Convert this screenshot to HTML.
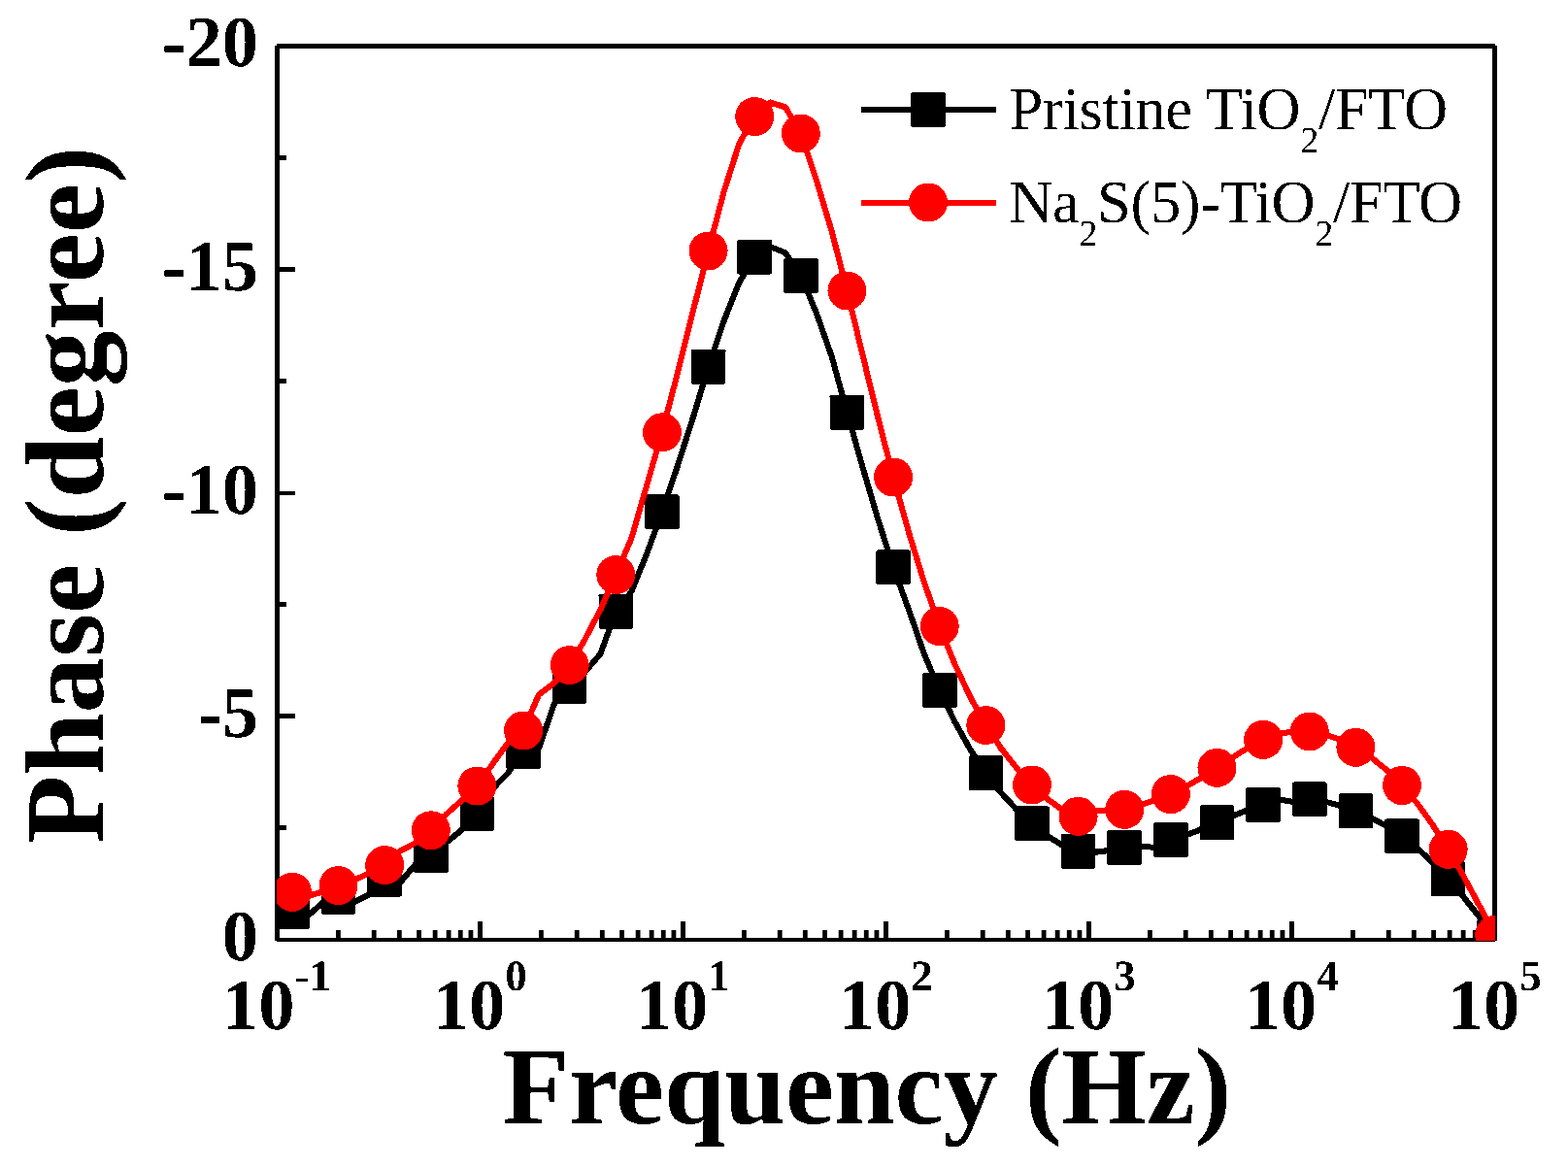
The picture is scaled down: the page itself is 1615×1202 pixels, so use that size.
<!DOCTYPE html>
<html lang="en"><head><meta charset="utf-8"><title>Phase vs Frequency</title>
<style>html,body{margin:0;padding:0;background:#fff}body{width:1615px;height:1202px;overflow:hidden}svg{display:block}text{font-family:"Liberation Serif","DejaVu Serif",serif;fill:#000;text-rendering:geometricPrecision}.b{font-weight:bold}</style>
</head><body>
<svg width="1615" height="1202" viewBox="0 0 1615 1202">
<rect x="0" y="0" width="1615" height="1202" fill="#fff"/>
<defs><clipPath id="pc"><rect x="285" y="47" width="1255" height="922"/></clipPath>
<filter id="th" filterUnits="userSpaceOnUse" x="0" y="0" width="1615" height="1202" color-interpolation-filters="sRGB"><feComponentTransfer><feFuncA type="discrete" tableValues="0 1"/></feComponentTransfer></filter></defs>
<g fill="#000" shape-rendering="crispEdges">
<rect x="285" y="45" width="1255" height="5"/>
<rect x="285" y="966" width="1255" height="4"/>
<rect x="283" y="47" width="5" height="922"/>
<rect x="1537" y="47" width="5" height="922"/>
<rect x="288" y="160.0" width="7" height="5"/>
<rect x="288" y="275.0" width="16" height="5"/>
<rect x="288" y="390.0" width="7" height="5"/>
<rect x="288" y="506" width="16" height="4"/>
<rect x="288" y="620.0" width="7" height="5"/>
<rect x="288" y="735.0" width="16" height="5"/>
<rect x="288" y="850.0" width="7" height="5"/>
<rect x="346.02" y="958" width="4.8" height="8" shape-rendering="auto"/>
<rect x="382.82" y="958" width="4.8" height="8" shape-rendering="auto"/>
<rect x="408.93" y="958" width="4.8" height="8" shape-rendering="auto"/>
<rect x="429.18" y="958" width="4.8" height="8" shape-rendering="auto"/>
<rect x="445.73" y="958" width="4.8" height="8" shape-rendering="auto"/>
<rect x="459.73" y="958" width="4.8" height="8" shape-rendering="auto"/>
<rect x="471.85" y="958" width="4.8" height="8" shape-rendering="auto"/>
<rect x="482.54" y="958" width="4.8" height="8" shape-rendering="auto"/>
<rect x="492.00" y="949" width="5" height="17"/>
<rect x="555.02" y="958" width="4.8" height="8" shape-rendering="auto"/>
<rect x="591.82" y="958" width="4.8" height="8" shape-rendering="auto"/>
<rect x="617.93" y="958" width="4.8" height="8" shape-rendering="auto"/>
<rect x="638.18" y="958" width="4.8" height="8" shape-rendering="auto"/>
<rect x="654.73" y="958" width="4.8" height="8" shape-rendering="auto"/>
<rect x="668.73" y="958" width="4.8" height="8" shape-rendering="auto"/>
<rect x="680.85" y="958" width="4.8" height="8" shape-rendering="auto"/>
<rect x="691.54" y="958" width="4.8" height="8" shape-rendering="auto"/>
<rect x="701.00" y="949" width="5" height="17"/>
<rect x="764.02" y="958" width="4.8" height="8" shape-rendering="auto"/>
<rect x="800.82" y="958" width="4.8" height="8" shape-rendering="auto"/>
<rect x="826.93" y="958" width="4.8" height="8" shape-rendering="auto"/>
<rect x="847.18" y="958" width="4.8" height="8" shape-rendering="auto"/>
<rect x="863.73" y="958" width="4.8" height="8" shape-rendering="auto"/>
<rect x="877.73" y="958" width="4.8" height="8" shape-rendering="auto"/>
<rect x="889.85" y="958" width="4.8" height="8" shape-rendering="auto"/>
<rect x="900.54" y="958" width="4.8" height="8" shape-rendering="auto"/>
<rect x="910.00" y="949" width="5" height="17"/>
<rect x="973.02" y="958" width="4.8" height="8" shape-rendering="auto"/>
<rect x="1009.82" y="958" width="4.8" height="8" shape-rendering="auto"/>
<rect x="1035.93" y="958" width="4.8" height="8" shape-rendering="auto"/>
<rect x="1056.18" y="958" width="4.8" height="8" shape-rendering="auto"/>
<rect x="1072.73" y="958" width="4.8" height="8" shape-rendering="auto"/>
<rect x="1086.73" y="958" width="4.8" height="8" shape-rendering="auto"/>
<rect x="1098.85" y="958" width="4.8" height="8" shape-rendering="auto"/>
<rect x="1109.54" y="958" width="4.8" height="8" shape-rendering="auto"/>
<rect x="1119.00" y="949" width="5" height="17"/>
<rect x="1182.02" y="958" width="4.8" height="8" shape-rendering="auto"/>
<rect x="1218.82" y="958" width="4.8" height="8" shape-rendering="auto"/>
<rect x="1244.93" y="958" width="4.8" height="8" shape-rendering="auto"/>
<rect x="1265.18" y="958" width="4.8" height="8" shape-rendering="auto"/>
<rect x="1281.73" y="958" width="4.8" height="8" shape-rendering="auto"/>
<rect x="1295.73" y="958" width="4.8" height="8" shape-rendering="auto"/>
<rect x="1307.85" y="958" width="4.8" height="8" shape-rendering="auto"/>
<rect x="1318.54" y="958" width="4.8" height="8" shape-rendering="auto"/>
<rect x="1328.00" y="949" width="5" height="17"/>
<rect x="1391.02" y="958" width="4.8" height="8" shape-rendering="auto"/>
<rect x="1427.82" y="958" width="4.8" height="8" shape-rendering="auto"/>
<rect x="1453.93" y="958" width="4.8" height="8" shape-rendering="auto"/>
<rect x="1474.18" y="958" width="4.8" height="8" shape-rendering="auto"/>
<rect x="1490.73" y="958" width="4.8" height="8" shape-rendering="auto"/>
<rect x="1504.73" y="958" width="4.8" height="8" shape-rendering="auto"/>
<rect x="1516.85" y="958" width="4.8" height="8" shape-rendering="auto"/>
<rect x="1527.54" y="958" width="4.8" height="8" shape-rendering="auto"/>
</g>
<g clip-path="url(#pc)">
<g filter="url(#th)">
<path d="M300.9 938.9 L316.8 943.5 L332.7 929.5 L348.5 923.9 L364.4 929.3 L380.3 921.5 L396.2 905.8 L412.0 909.3 L427.9 890.2 L443.8 880.9 L459.7 867.7 L475.5 855.0 L491.4 838.0 L507.3 812.6 L523.2 796.0 L539.0 774.1 L554.9 771.0 L570.8 725.0 L586.7 706.9 L602.6 692.0 L618.4 673.5 L634.3 629.9 L650.2 609.5 L666.1 570.5 L681.9 527.4 L697.8 480.0 L713.7 430.5 L729.6 377.9 L745.4 331.0 L761.3 291.0 L777.2 264.6 L793.1 254.0 L809.0 260.5 L824.8 283.9 L840.7 322.0 L856.6 367.0 L872.5 424.8 L888.3 480.5 L904.2 534.5 L920.1 584.4 L936.0 628.0 L951.8 673.5 L967.7 710.9 L983.6 743.8 L999.5 772.2 L1015.4 796.4 L1031.2 816.7 L1047.1 833.8 L1063.0 848.4 L1078.9 861.1 L1094.7 870.9 L1110.6 876.7 L1126.5 877.9 L1142.4 876.0 L1158.2 873.0 L1174.1 872.0 L1190.0 872.8 L1205.9 865.0 L1221.7 860.2 L1237.6 854.1 L1253.5 847.4 L1269.4 840.6 L1285.3 834.2 L1301.1 828.9 L1317.0 823.5 L1332.9 826.0 L1348.8 823.3 L1364.6 825.6 L1380.5 829.7 L1396.4 835.4 L1412.3 842.4 L1428.1 850.9 L1444.0 861.3 L1459.9 873.8 L1475.8 888.5 L1491.7 905.3 L1507.5 924.0 L1523.4 944.0 L1539.3 964.7" fill="none" stroke="#000" stroke-width="6.1" stroke-linejoin="round"/>
<g fill="#000">
<path d="M284.30 921.10L317.50 921.10L318.70 922.30L318.70 955.50L317.50 956.70L284.30 956.70L283.10 955.50L283.10 922.30Z"/>
<path d="M331.93 906.10L365.13 906.10L366.33 907.30L366.33 940.50L365.13 941.70L331.93 941.70L330.73 940.50L330.73 907.30Z"/>
<path d="M379.56 888.00L412.76 888.00L413.96 889.20L413.96 922.40L412.76 923.60L379.56 923.60L378.36 922.40L378.36 889.20Z"/>
<path d="M427.19 863.10L460.39 863.10L461.59 864.30L461.59 897.50L460.39 898.70L427.19 898.70L425.99 897.50L425.99 864.30Z"/>
<path d="M474.82 820.20L508.02 820.20L509.22 821.40L509.22 854.60L508.02 855.80L474.82 855.80L473.62 854.60L473.62 821.40Z"/>
<path d="M522.45 756.30L555.65 756.30L556.85 757.50L556.85 790.70L555.65 791.90L522.45 791.90L521.25 790.70L521.25 757.50Z"/>
<path d="M570.08 689.05L603.28 689.05L604.48 690.25L604.48 723.45L603.28 724.65L570.08 724.65L568.88 723.45L568.88 690.25Z"/>
<path d="M617.71 612.05L650.91 612.05L652.11 613.25L652.11 646.45L650.91 647.65L617.71 647.65L616.51 646.45L616.51 613.25Z"/>
<path d="M665.34 509.60L698.54 509.60L699.74 510.80L699.74 544.00L698.54 545.20L665.34 545.20L664.14 544.00L664.14 510.80Z"/>
<path d="M712.97 360.10L746.17 360.10L747.37 361.30L747.37 394.50L746.17 395.70L712.97 395.70L711.77 394.50L711.77 361.30Z"/>
<path d="M760.60 246.80L793.80 246.80L795.00 248.00L795.00 281.20L793.80 282.40L760.60 282.40L759.40 281.20L759.40 248.00Z"/>
<path d="M808.23 266.10L841.43 266.10L842.63 267.30L842.63 300.50L841.43 301.70L808.23 301.70L807.03 300.50L807.03 267.30Z"/>
<path d="M855.86 407.00L889.06 407.00L890.26 408.20L890.26 441.40L889.06 442.60L855.86 442.60L854.66 441.40L854.66 408.20Z"/>
<path d="M903.49 566.60L936.69 566.60L937.89 567.80L937.89 601.00L936.69 602.20L903.49 602.20L902.29 601.00L902.29 567.80Z"/>
<path d="M951.12 693.10L984.32 693.10L985.52 694.30L985.52 727.50L984.32 728.70L951.12 728.70L949.92 727.50L949.92 694.30Z"/>
<path d="M998.75 778.60L1031.95 778.60L1033.15 779.80L1033.15 813.00L1031.95 814.20L998.75 814.20L997.55 813.00L997.55 779.80Z"/>
<path d="M1046.38 830.60L1079.58 830.60L1080.78 831.80L1080.78 865.00L1079.58 866.20L1046.38 866.20L1045.18 865.00L1045.18 831.80Z"/>
<path d="M1094.01 858.90L1127.21 858.90L1128.41 860.10L1128.41 893.30L1127.21 894.50L1094.01 894.50L1092.81 893.30L1092.81 860.10Z"/>
<path d="M1141.64 855.20L1174.84 855.20L1176.04 856.40L1176.04 889.60L1174.84 890.80L1141.64 890.80L1140.44 889.60L1140.44 856.40Z"/>
<path d="M1189.27 847.20L1222.47 847.20L1223.67 848.40L1223.67 881.60L1222.47 882.80L1189.27 882.80L1188.07 881.60L1188.07 848.40Z"/>
<path d="M1236.90 829.60L1270.10 829.60L1271.30 830.80L1271.30 864.00L1270.10 865.20L1236.90 865.20L1235.70 864.00L1235.70 830.80Z"/>
<path d="M1284.53 811.10L1317.73 811.10L1318.93 812.30L1318.93 845.50L1317.73 846.70L1284.53 846.70L1283.33 845.50L1283.33 812.30Z"/>
<path d="M1332.16 805.50L1365.36 805.50L1366.56 806.70L1366.56 839.90L1365.36 841.10L1332.16 841.10L1330.96 839.90L1330.96 806.70Z"/>
<path d="M1379.79 817.60L1412.99 817.60L1414.19 818.80L1414.19 852.00L1412.99 853.20L1379.79 853.20L1378.59 852.00L1378.59 818.80Z"/>
<path d="M1427.42 843.50L1460.62 843.50L1461.82 844.70L1461.82 877.90L1460.62 879.10L1427.42 879.10L1426.22 877.90L1426.22 844.70Z"/>
<path d="M1475.05 887.50L1508.25 887.50L1509.45 888.70L1509.45 921.90L1508.25 923.10L1475.05 923.10L1473.85 921.90L1473.85 888.70Z"/>
<path d="M1522.68 946.90L1555.88 946.90L1557.08 948.10L1557.08 981.30L1555.88 982.50L1522.68 982.50L1521.48 981.30L1521.48 948.10Z"/>
</g>
</g>
<g filter="url(#th)">
<path d="M300.9 918.7 L316.8 923.0 L332.7 918.5 L348.5 912.1 L364.4 906.8 L380.3 899.2 L396.2 891.1 L412.0 876.5 L427.9 868.2 L443.8 855.2 L459.7 838.5 L475.5 824.5 L491.4 809.5 L507.3 787.0 L523.2 765.0 L539.0 752.5 L554.9 715.5 L570.8 703.5 L586.7 685.1 L602.6 658.4 L618.4 627.9 L634.3 592.0 L650.2 555.0 L666.1 500.0 L681.9 445.3 L697.8 384.4 L713.7 320.9 L729.6 258.4 L745.4 198.0 L761.3 148.0 L777.2 120.0 L793.1 105.5 L809.0 110.5 L824.8 137.4 L840.7 185.0 L856.6 238.0 L872.5 299.4 L888.3 364.9 L904.2 429.7 L920.1 491.5 L936.0 548.3 L951.8 599.6 L967.7 645.0 L983.6 684.5 L999.5 718.3 L1015.4 747.0 L1031.2 771.0 L1047.1 791.2 L1063.0 808.4 L1078.9 823.1 L1094.7 834.4 L1110.6 840.8 L1126.5 835.2 L1142.4 834.8 L1158.2 833.8 L1174.1 829.1 L1190.0 824.1 L1205.9 818.0 L1221.7 810.2 L1237.6 801.0 L1253.5 790.8 L1269.4 780.2 L1285.3 770.1 L1301.1 761.8 L1317.0 756.1 L1332.9 753.3 L1348.8 753.4 L1364.6 756.3 L1380.5 761.8 L1396.4 769.8 L1412.3 780.2 L1428.1 793.1 L1444.0 808.9 L1459.9 827.8 L1475.8 849.8 L1491.7 874.8 L1507.5 902.6 L1523.4 932.3 L1539.3 963.0" fill="none" stroke="#f00" stroke-width="6.1" stroke-linejoin="round"/>
<g fill="#f00">
<circle cx="300.90" cy="918.70" r="20.0"/>
<circle cx="348.53" cy="912.10" r="20.0"/>
<circle cx="396.16" cy="891.10" r="20.0"/>
<circle cx="443.79" cy="855.20" r="20.0"/>
<circle cx="491.42" cy="809.50" r="20.0"/>
<circle cx="539.05" cy="752.50" r="20.0"/>
<circle cx="586.68" cy="685.10" r="20.0"/>
<circle cx="634.31" cy="592.00" r="20.0"/>
<circle cx="681.94" cy="445.30" r="20.0"/>
<circle cx="729.57" cy="258.40" r="20.0"/>
<circle cx="777.20" cy="120.00" r="20.0"/>
<circle cx="824.83" cy="137.40" r="20.0"/>
<circle cx="872.46" cy="299.40" r="20.0"/>
<circle cx="920.09" cy="491.50" r="20.0"/>
<circle cx="967.72" cy="645.00" r="20.0"/>
<circle cx="1015.35" cy="747.00" r="20.0"/>
<circle cx="1062.98" cy="808.40" r="20.0"/>
<circle cx="1110.61" cy="840.80" r="20.0"/>
<circle cx="1158.24" cy="833.80" r="20.0"/>
<circle cx="1205.87" cy="818.00" r="20.0"/>
<circle cx="1253.50" cy="790.80" r="20.0"/>
<circle cx="1301.13" cy="761.80" r="20.0"/>
<circle cx="1348.76" cy="753.40" r="20.0"/>
<circle cx="1396.39" cy="769.80" r="20.0"/>
<circle cx="1444.02" cy="808.90" r="20.0"/>
<circle cx="1491.65" cy="874.80" r="20.0"/>
<circle cx="1539.28" cy="963.00" r="20.0"/>
</g>
</g>
</g>
<g filter="url(#th)">
<rect x="887" y="110" width="139" height="6" fill="#000" shape-rendering="crispEdges"/>
<path d="M939.20 95.00L972.80 95.00L974.00 96.20L974.00 129.80L972.80 131.00L939.20 131.00L938.00 129.80L938.00 96.20Z" fill="#000"/>
</g>
<g filter="url(#th)">
<rect x="887" y="206" width="139" height="6" fill="#f00" shape-rendering="crispEdges"/>
<circle cx="956" cy="208.5" r="20" fill="#f00"/>
</g>
<g filter="url(#th)">
<text x="1039.6" y="133.2" font-size="62.5" style="letter-spacing:-0.36px">Pristine TiO<tspan font-size="38" dy="23.5">2</tspan><tspan dy="-23.5">/FTO</tspan></text>
<text x="1039.2" y="229" font-size="62.5" style="letter-spacing:-0.34px">Na<tspan font-size="38" dy="23.5">2</tspan><tspan dy="-23.5">S(5)-TiO</tspan><tspan font-size="38" dy="23.5">2</tspan><tspan dy="-23.5">/FTO</tspan></text>
<text class="b" x="266.1" y="68.1" font-size="74.5" text-anchor="end">-20</text>
<text class="b" x="266.1" y="299.1" font-size="74.5" text-anchor="end">-15</text>
<text class="b" x="266.1" y="529.1" font-size="74.5" text-anchor="end">-10</text>
<text class="b" x="266.1" y="759.1" font-size="74.5" text-anchor="end">-5</text>
<text class="b" x="266.1" y="989.1" font-size="74.5" text-anchor="end">0</text>
<text class="b" x="229.04" y="1060.1" font-size="74.5">10<tspan font-size="45" dy="-40">-1</tspan></text>
<text class="b" x="445.70" y="1060.1" font-size="74.5">10<tspan font-size="45" dy="-40">0</tspan></text>
<text class="b" x="654.70" y="1060.1" font-size="74.5">10<tspan font-size="45" dy="-40">1</tspan></text>
<text class="b" x="863.70" y="1060.1" font-size="74.5">10<tspan font-size="45" dy="-40">2</tspan></text>
<text class="b" x="1072.70" y="1060.1" font-size="74.5">10<tspan font-size="45" dy="-40">3</tspan></text>
<text class="b" x="1281.70" y="1060.1" font-size="74.5">10<tspan font-size="45" dy="-40">4</tspan></text>
<text class="b" x="1490.70" y="1060.1" font-size="74.5">10<tspan font-size="45" dy="-40">5</tspan></text>
<text class="b" id="xt" x="517.4" y="1156.6" font-size="112.5">Frequency (Hz)</text>
<text class="b" id="yt" transform="translate(105.7 868.9) rotate(-90)" font-size="115.3">Phase (degree)</text>
</g>
</svg>
</body></html>
